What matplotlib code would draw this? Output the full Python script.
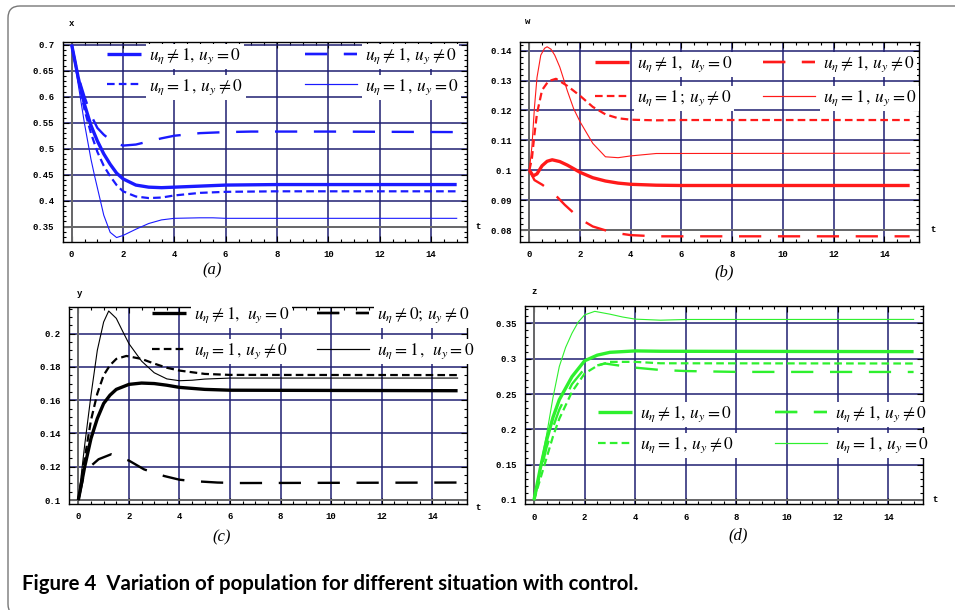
import matplotlib
matplotlib.use('Agg')
import matplotlib.pyplot as plt
from matplotlib.patches import FancyBboxPatch
from matplotlib.ticker import MultipleLocator

plt.rcParams['mathtext.fontset'] = 'stix'
plt.rcParams['lines.scale_dashes'] = False

# ---- data ----
# panel (a): x
a1_t = [0, 0.25, 0.5, 0.75, 1, 1.25, 1.5, 1.75, 2, 2.5, 3, 3.5, 4, 5, 6, 8, 10, 15]
a1_v = [0.7, 0.638, 0.585, 0.545, 0.515, 0.49, 0.47, 0.453, 0.442, 0.43, 0.426, 0.425, 0.426, 0.428, 0.43, 0.431, 0.431, 0.431]
a2_t = [0, 0.25, 0.5, 0.75, 1, 1.25, 1.5, 1.75, 2, 2.5, 3, 3.5, 4, 5, 6, 7, 10, 15]
a2_v = [0.7, 0.64, 0.6, 0.565, 0.54, 0.527, 0.517, 0.51, 0.506, 0.508, 0.514, 0.52, 0.525, 0.53, 0.532, 0.533, 0.533, 0.532]
a3_t = [0, 0.25, 0.5, 0.75, 1, 1.25, 1.5, 1.75, 2, 2.5, 3, 3.5, 4, 5, 6, 8, 15]
a3_v = [0.7, 0.635, 0.575, 0.53, 0.494, 0.467, 0.447, 0.43, 0.418, 0.408, 0.405, 0.406, 0.41, 0.415, 0.417, 0.418, 0.418]
a4_t = [0, 0.25, 0.5, 0.75, 0.9, 1, 1.25, 1.5, 1.75, 2, 2.5, 3, 3.5, 4, 5, 5.5, 6, 15]
a4_v = [0.7, 0.625, 0.548, 0.48, 0.446, 0.425, 0.372, 0.339, 0.329, 0.333, 0.345, 0.356, 0.363, 0.366, 0.367, 0.367, 0.366, 0.366]

# panel (b): w
b1_t = [0, 0.15, 0.3, 0.5, 0.7, 0.9, 1.2, 1.5, 2, 2.5, 3, 3.5, 4, 5, 6, 15]
b1_v = [0.1, 0.0981, 0.0988, 0.1015, 0.103, 0.1035, 0.1029, 0.1017, 0.0993, 0.0975, 0.0964, 0.0957, 0.0953, 0.095, 0.0949, 0.0949]
b2_t = [0, 0.2, 0.5, 0.9, 1.4, 1.8, 2.1, 2.5, 3, 3.5, 4, 5, 6, 15]
b2_v = [0.1, 0.0967, 0.0952, 0.0928, 0.0884, 0.0853, 0.0832, 0.0812, 0.0799, 0.0789, 0.0783, 0.0779, 0.0779, 0.0779]
b3_t = [0, 0.1, 0.2, 0.3, 0.5, 0.75, 1.05, 1.5, 2, 2.5, 3, 3.5, 4, 5, 6, 15]
b3_v = [0.1, 0.104, 0.112, 0.119, 0.1268, 0.1298, 0.1306, 0.1282, 0.1249, 0.1212, 0.1187, 0.1174, 0.1169, 0.1167, 0.1168, 0.1168]
b4_t = [0, 0.1, 0.2, 0.3, 0.45, 0.6, 0.7, 0.85, 1, 1.2, 1.5, 1.75, 2, 2.5, 3, 3.5, 4, 5, 15]
b4_v = [0.1, 0.108, 0.121, 0.131, 0.1385, 0.1408, 0.1413, 0.1405, 0.1385, 0.1345, 0.1265, 0.1205, 0.1162, 0.109, 0.1045, 0.1042, 0.1048, 0.1056, 0.1057]

# panel (c): y
c1_t = [0, 0.1, 0.25, 0.5, 0.75, 1, 1.25, 1.5, 2, 2.5, 3, 3.5, 4, 5, 6, 15]
c1_v = [0.1, 0.108, 0.12, 0.137, 0.149, 0.158, 0.163, 0.1665, 0.1695, 0.1703, 0.17, 0.169, 0.1677, 0.1665, 0.166, 0.1657]
c2_t = [0, 0.2, 0.5, 0.8, 1.3, 2, 2.6, 3.4, 4, 4.5, 5.5, 6.3, 15]
c2_v = [0.1, 0.114, 0.1205, 0.1245, 0.1275, 0.1237, 0.1184, 0.1144, 0.1122, 0.1114, 0.1105, 0.1102, 0.1105]
c3_t = [0, 0.25, 0.5, 0.75, 1, 1.25, 1.5, 1.9, 2.5, 3, 3.5, 4, 5, 6, 15]
c3_v = [0.1, 0.125, 0.148, 0.164, 0.175, 0.181, 0.1848, 0.1866, 0.1848, 0.182, 0.1795, 0.1778, 0.1758, 0.1752, 0.1751]
c4_t = [0, 0.25, 0.5, 0.75, 1, 1.2, 1.5, 1.75, 2, 2.5, 3, 3.5, 4, 4.5, 5, 6, 15]
c4_v = [0.1, 0.133, 0.163, 0.19, 0.207, 0.2136, 0.2092, 0.2015, 0.194, 0.1835, 0.1765, 0.1728, 0.1717, 0.172, 0.1727, 0.1733, 0.1733]

# panel (d): z
d1_t = [0, 0.25, 0.5, 0.75, 1, 1.5, 2, 2.5, 3, 4, 5, 15]
d1_v = [0.1, 0.145, 0.185, 0.217, 0.242, 0.2745, 0.297, 0.305, 0.309, 0.311, 0.3105, 0.31]
d2_t = [0, 0.25, 0.5, 0.75, 1, 1.5, 2, 2.8, 3.5, 4, 5, 6, 8, 15]
d2_v = [0.1, 0.138, 0.175, 0.203, 0.228, 0.264, 0.286, 0.2932, 0.2896, 0.2873, 0.284, 0.2825, 0.2813, 0.2812]
d3_t = [0, 0.25, 0.5, 0.75, 1, 1.5, 2, 2.5, 3, 4, 5, 15]
d3_v = [0.1, 0.13, 0.16, 0.19, 0.215, 0.253, 0.279, 0.29, 0.2955, 0.2955, 0.2935, 0.2932]
d4_t = [0, 0.25, 0.5, 0.75, 1, 1.25, 1.5, 1.75, 2, 2.4, 3, 3.5, 4, 5, 6, 15]
d4_v = [0.1, 0.148, 0.193, 0.245, 0.289, 0.316, 0.336, 0.352, 0.362, 0.367, 0.363, 0.359, 0.356, 0.3545, 0.3555, 0.3556]

x_ticks = [0, 2, 4, 6, 8, 10, 12, 14]
a_yticks = [0.35, 0.4, 0.45, 0.5, 0.55, 0.6, 0.65, 0.7]
b_yticks = [0.08, 0.09, 0.1, 0.11, 0.12, 0.13, 0.14]
c_yticks = [0.1, 0.12, 0.14, 0.16, 0.18, 0.2]
d_yticks = [0.1, 0.15, 0.2, 0.25, 0.3, 0.35]

lab_a = [r'$u_\eta \neq \mathit{1},\, u_y = 0$', r'$u_\eta \neq \mathit{1},\, u_y \neq 0$',
         r'$u_\eta = \mathit{1}\,,\, u_y \neq 0$', r'$u_\eta = \mathit{1}\,,\, u_y = 0$']
lab_b = [r'$u_\eta \neq \mathit{1},\;\, u_y = 0$', r'$u_\eta \neq \mathit{1},\, u_y \neq 0$',
         r'$u_\eta = \mathit{1}\,;\, u_y \neq 0$', r'$u_\eta = \mathit{1}\,,\, u_y = 0$']
lab_c = [r'$u_\eta \neq \mathit{1},\;\, u_y = 0$', r'$u_\eta \neq 0;\, u_y \neq 0$',
         r'$u_\eta = \mathit{1}\,,\, u_y \neq 0$', r'$u_\eta = \mathit{1}\,,\;\, u_y = 0$']
lab_d = [r'$u_\eta \neq \mathit{1},\, u_y = 0$', r'$u_\eta \neq \mathit{1},\, u_y \neq 0$',
         r'$u_\eta = \mathit{1}\,,\, u_y \neq 0$', r'$u_\eta = \mathit{1}\,,\, u_y = 0$']

# ---- figure ----
W, H = 955, 610
fig = plt.figure(figsize=(9.55, 6.1), dpi=100)

def fx(px):
    return px / W

def fy(py):
    return 1 - py / H

grid_col = '#1f1f72'
axis_col = '#6a6a6a'
mono = 'Liberation Mono'

def make_panel(rect, xlim, ylim, yticks, yminor, series, color, labels, leg1, leg2, lspace,
               vname, vpos, tpos, tag, tagpos):
    ax = fig.add_axes(rect)
    ax.set_xlim(*xlim)
    ax.set_ylim(*ylim)
    ax.set_xticks(x_ticks)
    ax.set_yticks(yticks)
    ax.set_xticklabels([str(v) for v in x_ticks])
    ax.set_yticklabels(['%g' % v for v in yticks])
    ax.xaxis.set_minor_locator(MultipleLocator(0.5))
    ax.yaxis.set_minor_locator(MultipleLocator(yminor))
    ax.tick_params(which='both', direction='in', top=True, right=True,
                   labelsize=6.5, pad=6, width=0.8)
    ax.tick_params(which='major', length=4)
    ax.tick_params(which='minor', length=2)
    for lab in ax.get_xticklabels() + ax.get_yticklabels():
        lab.set_fontfamily(mono)
        lab.set_fontweight('bold')
    for sp in ax.spines.values():
        sp.set_linewidth(1.0)
        sp.set_color('black')
    ax.grid(True, which='major', color=grid_col, linewidth=1.1, zorder=0)
    ax.set_axisbelow(True)
    ax.axvline(0, color=axis_col, lw=1.4, zorder=1)
    ax.axhline(yticks[0], color=axis_col, lw=1.4, zorder=1)

    (t1, v1), (t2, v2), (t3, v3), (t4, v4) = series
    h1, = ax.plot(t1, v1, color=color, lw=2.4, solid_capstyle='butt', zorder=3)
    h2, = ax.plot(t2, v2, color=color, lw=1.7, dashes=(16, 12), zorder=3)
    h3, = ax.plot(t3, v3, color=color, lw=1.6, dashes=(5.5, 3), zorder=3)
    h4, = ax.plot(t4, v4, color=color, lw=0.8, zorder=3)

    kw = dict(loc='upper left', bbox_transform=fig.transFigure, frameon=False,
              fontsize=12.5, handletextpad=0.45, labelspacing=lspace,
              borderpad=0.1, borderaxespad=0)
    l1 = ax.legend([h1, h3], [labels[0], labels[2]], handlelength=2.0,
                   bbox_to_anchor=(fx(leg1[0]), fy(leg1[1])), **kw)
    ax.add_artist(l1)
    l2 = ax.legend([h2, h4], [labels[1], labels[3]], handlelength=3.0,
                   bbox_to_anchor=(fx(leg2[0]), fy(leg2[1])), **kw)
    ax.add_artist(l2)
    # white patches behind the legend text, as in the original
    for leg in (l1, l2):
        for txt in leg.get_texts():
            txt.set_bbox(dict(facecolor='white', edgecolor='none', pad=2))

    fig.text(fx(vpos[0]), fy(vpos[1]), vname, fontsize=6.5, family=mono,
             fontweight='bold', ha='center', va='center')
    fig.text(fx(tpos[0]), fy(tpos[1]), 't', fontsize=6.5, family=mono,
             fontweight='bold', ha='center', va='center')
    fig.text(fx(tagpos[0]), fy(tagpos[1]), tag, fontsize=12, family='Liberation Serif',
             style='italic', ha='center', va='center')
    return ax

make_panel([fx(62.7), fy(241.7), 404 / W, 200 / H], (-0.35, 15.39), (0.321, 0.706),
           a_yticks, 0.01,
           [(a1_t, a1_v), (a2_t, a2_v), (a3_t, a3_v), (a4_t, a4_v)], '#1a1aff', lab_a,
           (105, 44), (303, 44), 0.6, 'x', (71, 24), (478, 226), '(a)', (212, 270))

make_panel([fx(520), fy(241.7), 399.3 / W, 200 / H], (-0.37, 15.38), (0.0761, 0.143),
           b_yticks, 0.002,
           [(b1_t, b1_v), (b2_t, b2_v), (b3_t, b3_v), (b4_t, b4_v)], '#ff1a1a', lab_b,
           (593, 52), (761, 52), 0.8, 'w', (528, 22), (933, 230), '(b)', (724, 272))

make_panel([fx(69), fy(504), 397.7 / W, 197.3 / H], (-0.37, 15.36), (0.0976, 0.2162),
           c_yticks, 0.005,
           [(c1_t, c1_v), (c2_t, c2_v), (c3_t, c3_v), (c4_t, c4_v)], 'black', lab_c,
           (150, 303), (315, 303), 0.9, 'y', (80, 293), (478, 508), '(c)', (222, 537))

make_panel([fx(525), fy(504.3), 397.7 / W, 198.6 / H], (-0.356, 15.36), (0.0939, 0.375),
           d_yticks, 0.01,
           [(d1_t, d1_v), (d2_t, d2_v), (d3_t, d3_v), (d4_t, d4_v)], '#2ef02e', lab_d,
           (596, 402), (773, 402), 0.62, 'z', (534, 291), (935, 500), '(d)', (738, 535))

# caption and rounded frame
fig.text(fx(22), fy(584), 'Figure 4  Variation of population for different situation with control.',
         fontsize=14.7, family='Lato', fontweight='bold', ha='left', va='center')
frame = FancyBboxPatch((0.08, -0.06), 9.9, 6.1, boxstyle='round,pad=0,rounding_size=0.12',
                       transform=fig.dpi_scale_trans, facecolor='none', edgecolor='#777777',
                       lw=1.0, clip_on=False)
fig.patches.append(frame)

fig.savefig('out.png', dpi=100)
